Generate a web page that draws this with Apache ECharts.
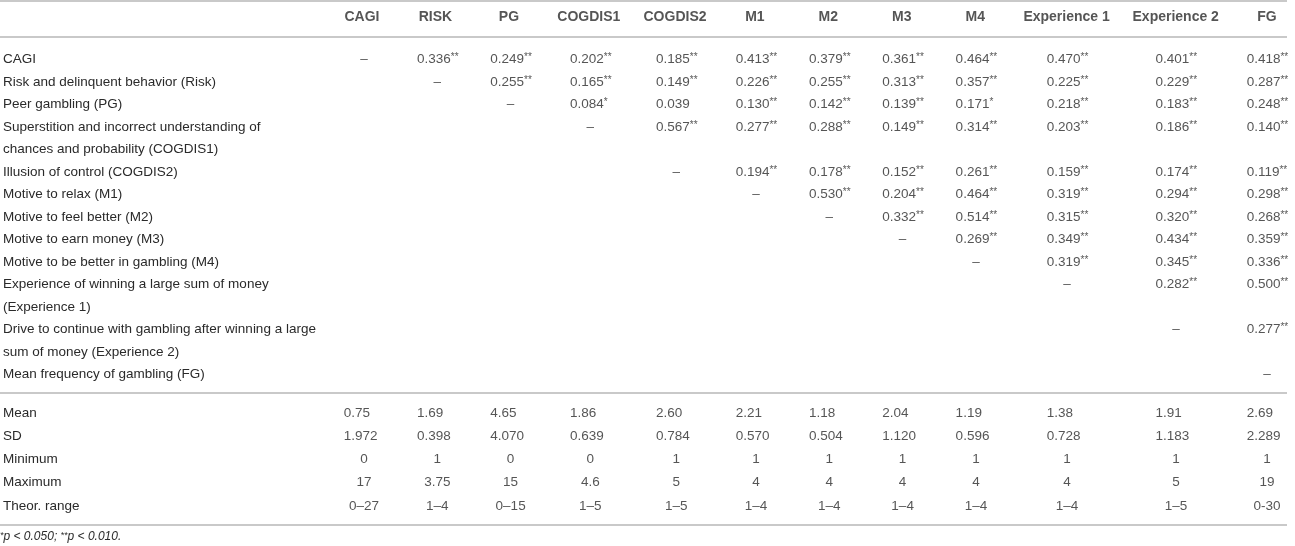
<!DOCTYPE html>
<html>
<head>
<meta charset="utf-8">
<script src="https://cdn.jsdelivr.net/npm/echarts@6/dist/echarts.min.js"></script>
<style>
  html, body { margin: 0; padding: 0; background: #fff; }
  #chart { width: 1295px; height: 546px; }
</style>
</head>
<body>
<div id="chart"></div>
<script>
// column headers
const columns = ['CAGI', 'RISK', 'PG', 'COGDIS1', 'COGDIS2', 'M1', 'M2', 'M3', 'M4', 'Experience 1', 'Experience 2', 'FG']

// row labels, \n where the printed label wraps
const rowLabels = [
  'CAGI',
  'Risk and delinquent behavior (Risk)',
  'Peer gambling (PG)',
  'Superstition and incorrect understanding of\nchances and probability (COGDIS1)',
  'Illusion of control (COGDIS2)',
  'Motive to relax (M1)',
  'Motive to feel better (M2)',
  'Motive to earn money (M3)',
  'Motive to be better in gambling (M4)',
  'Experience of winning a large sum of money\n(Experience 1)',
  'Drive to continue with gambling after winning a large\nsum of money (Experience 2)',
  'Mean frequency of gambling (FG)'
]

// upper triangle, each row starts right after the diagonal
const corr = [
  [0.336, 0.249, 0.202, 0.185, 0.413, 0.379, 0.361, 0.464, 0.470, 0.401, 0.418],
  [0.255, 0.165, 0.149, 0.226, 0.255, 0.313, 0.357, 0.225, 0.229, 0.287],
  [0.084, 0.039, 0.130, 0.142, 0.139, 0.171, 0.218, 0.183, 0.248],
  [0.567, 0.277, 0.288, 0.149, 0.314, 0.203, 0.186, 0.140],
  [0.194, 0.178, 0.152, 0.261, 0.159, 0.174, 0.119],
  [0.530, 0.204, 0.464, 0.319, 0.294, 0.298],
  [0.332, 0.514, 0.315, 0.320, 0.268],
  [0.269, 0.349, 0.434, 0.359],
  [0.319, 0.345, 0.336],
  [0.282, 0.500],
  [0.277],
  []
]
// number of stars for each value above (1 = p < .05, 2 = p < .01)
const sig = [
  [2, 2, 2, 2, 2, 2, 2, 2, 2, 2, 2],
  [2, 2, 2, 2, 2, 2, 2, 2, 2, 2],
  [1, 0, 2, 2, 2, 1, 2, 2, 2],
  [2, 2, 2, 2, 2, 2, 2, 2],
  [2, 2, 2, 2, 2, 2, 2],
  [2, 2, 2, 2, 2, 2],
  [2, 2, 2, 2, 2],
  [2, 2, 2, 2],
  [2, 2, 2],
  [2, 2],
  [2],
  []
]

// descriptive stats
const statLabels = ['Mean', 'SD', 'Minimum', 'Maximum', 'Theor. range']
const means = [0.75, 1.69, 4.65, 1.86, 2.60, 2.21, 1.18, 2.04, 1.19, 1.38, 1.91, 2.69]
const sds = [1.972, 0.398, 4.070, 0.639, 0.784, 0.570, 0.504, 1.120, 0.596, 0.728, 1.183, 2.289]
const minimums = [0, 1, 0, 0, 1, 1, 1, 1, 1, 1, 1, 1]
const maximums = [17, 3.75, 15, 4.6, 5, 4, 4, 4, 4, 4, 5, 19]
const theorRanges = ['0–27', '1–4', '0–15', '1–5', '1–5', '1–4', '1–4', '1–4', '1–4', '1–4', '1–5', '0-30']

const TEXT = '#2a2a2a'
const RULE = '#c9c9c9'
const FONT = '"Liberation Sans", Arial, sans-serif'
const BODY_SIZE = 13.5
const HEAD_SIZE = 14
const STAR_SIZE = 10

// text width, used to lay the columns out like a table would
const ctx = document.createElement('canvas').getContext('2d')
function textWidth(txt, size, weight) {
  ctx.font = (weight || 'normal') + ' ' + size + 'px ' + FONT
  return ctx.measureText(txt).width
}

// every printed line of the correlation block gets its own slot
const slotLabels = []
const corrCells = []
const colCells = columns.map(() => [])
rowLabels.forEach((label, r) => {
  const lines = label.split('\n')
  const slot = slotLabels.length
  lines.forEach(l => slotLabels.push(l))
  corrCells.push({ col: r, slot, text: '–', num: false })
  colCells[r].push(['–', ''])
  corr[r].forEach((v, k) => {
    const stars = '*'.repeat(sig[r][k])
    corrCells.push({
      col: r + 1 + k,
      slot,
      text: v.toFixed(3) + (stars ? '{s|' + stars + '}' : ''),
      num: true
    })
    colCells[r + 1 + k].push([v.toFixed(3), stars])
  })
})

const statRows = [
  means.map(v => v.toFixed(2)),
  sds.map(v => v.toFixed(3)),
  minimums.map(String),
  maximums.map(String),
  theorRanges
]
// mean and SD line up on the left edge of the correlations, the rest is centred
const statLeftAligned = [true, true, false, false, false]
statRows.forEach(row => row.forEach((txt, c) => colCells[c].push([txt, ''])))

// column widths: widest of header and cells, plus a gap
const minCellWidth = 50
const colGap = 25
const colWidths = columns.map((h, c) => {
  let w = Math.max(minCellWidth, textWidth(h, HEAD_SIZE, 'bold'))
  colCells[c].forEach(([num, stars]) => {
    w = Math.max(w, textWidth(num, BODY_SIZE) + (stars ? textWidth(stars, STAR_SIZE) : 0))
  })
  return w + colGap
})
const colCenters = []
let acc = 0
colWidths.forEach(w => { colCenters.push(acc + w / 2); acc += w })
// left edge of a typical "0.000**" entry centred in its column
const numHalf = (textWidth('0.000', BODY_SIZE) + textWidth('**', STAR_SIZE)) / 2

const leftLabel = { align: 'left' }
const headerData = columns.map((h, c) => ({ name: h, value: [colCenters[c], 0] }))
const corrPoints = corrCells.map(d => d.num
  ? { name: d.text, value: [colCenters[d.col] - numHalf, d.slot], label: leftLabel }
  : { name: d.text, value: [colCenters[d.col], d.slot] })
const statData = []
statRows.forEach((row, r) => {
  row.forEach((txt, c) => statData.push(statLeftAligned[r]
    ? { name: txt, value: [colCenters[c] - numHalf, r], label: leftLabel }
    : { name: txt, value: [colCenters[c], r] }))
})

const gridLeft = 362
const gridRight = 28

const cellLabel = {
  show: true,
  position: 'inside',
  formatter: p => p.name,
  color: TEXT,
  fontFamily: FONT,
  fontSize: BODY_SIZE,
  rich: {
    s: { fontSize: STAR_SIZE, verticalAlign: 'top', lineHeight: 10, color: TEXT, fontFamily: FONT }
  }
}

const rowAxisLabel = {
  interval: 0,
  align: 'left',
  margin: gridLeft - 1,
  color: TEXT,
  fontFamily: FONT,
  fontSize: BODY_SIZE
}

const hiddenAxis = {
  axisLine: { show: false },
  axisTick: { show: false },
  axisLabel: { show: false },
  splitLine: { show: false }
}

function colAxis(gridIndex) {
  return Object.assign({
    gridIndex,
    type: 'value',
    min: colCenters[0],
    max: colCenters[colCenters.length - 1]
  }, hiddenAxis)
}

function cellSeries(i, data, label) {
  return {
    type: 'scatter',
    xAxisIndex: i,
    yAxisIndex: i,
    symbolSize: 1,
    clip: false,
    itemStyle: { color: 'rgba(0,0,0,0)' },
    silent: true,
    label,
    data
  }
}

const chart = echarts.init(document.getElementById('chart'))
chart.setOption({
  animation: false,
  backgroundColor: '#fff',
  title: {
    left: 0,
    top: 531,
    padding: 0,
    text: '{s|*}p < 0.050; {s|**}p < 0.010.',
    textStyle: {
      fontFamily: FONT,
      fontSize: 12,
      fontStyle: 'italic',
      fontWeight: 'normal',
      color: TEXT,
      rich: {
        s: { fontSize: 9, verticalAlign: 'top', lineHeight: 9, fontStyle: 'italic', color: TEXT, fontFamily: FONT }
      }
    }
  },
  graphic: [
    { type: 'rect', shape: { x: 0, y: 0, width: 1287, height: 2 }, style: { fill: RULE }, silent: true },
    { type: 'rect', shape: { x: 0, y: 36, width: 1287, height: 2 }, style: { fill: RULE }, silent: true },
    { type: 'rect', shape: { x: 0, y: 392, width: 1287, height: 2 }, style: { fill: RULE }, silent: true },
    { type: 'rect', shape: { x: 0, y: 524, width: 1287, height: 2 }, style: { fill: RULE }, silent: true }
  ],
  grid: [
    { left: gridLeft, right: gridRight, top: 5, height: 24 },
    { left: gridLeft, right: gridRight, top: 48.25, height: 337.5 },
    { left: gridLeft, right: gridRight, top: 401.4, height: 116.25 }
  ],
  xAxis: [colAxis(0), colAxis(1), colAxis(2)],
  yAxis: [
    Object.assign({ gridIndex: 0, type: 'category', data: ['header'] }, hiddenAxis),
    {
      gridIndex: 1,
      type: 'category',
      data: slotLabels,
      inverse: true,
      axisLine: { show: false },
      axisTick: { show: false },
      splitLine: { show: false },
      axisLabel: rowAxisLabel
    },
    {
      gridIndex: 2,
      type: 'category',
      data: statLabels,
      inverse: true,
      axisLine: { show: false },
      axisTick: { show: false },
      splitLine: { show: false },
      axisLabel: rowAxisLabel
    }
  ],
  series: [
    cellSeries(0, headerData, Object.assign({}, cellLabel, { fontSize: HEAD_SIZE, fontWeight: 'bold' })),
    cellSeries(1, corrPoints, cellLabel),
    cellSeries(2, statData, cellLabel)
  ]
})
</script>
</body>
</html>
